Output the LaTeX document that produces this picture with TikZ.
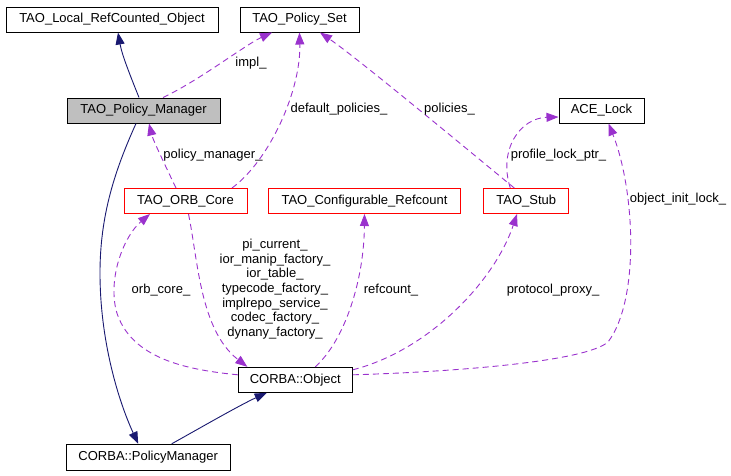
\documentclass[tikz,border=0pt]{standalone}
\usepackage{fontspec}
\setmainfont{Liberation Sans}
\usetikzlibrary{arrows.meta}
\definecolor{edgepurple}{HTML}{9A32CD}
\definecolor{edgenavy}{HTML}{191970}
\definecolor{boxgray}{HTML}{BFBFBF}
\begin{document}
\begin{tikzpicture}[x=1pt,y=-1pt,
  every node/.style={font=\fontsize{13}{14.7}\selectfont, inner sep=0pt},
  classbox/.style={draw=black, line width=1pt, minimum height=25pt},
  redbox/.style={draw=red, line width=1pt, minimum height=25pt},
  lbl/.style={align=center},
  uses/.style={draw=edgepurple, line width=0.9pt, dash pattern=on 6pt off 4pt,
    -{Triangle[length=12pt,width=9pt,fill=edgepurple]}},
  inherit/.style={draw=edgenavy, line width=0.9pt,
    -{Triangle[length=12pt,width=9pt,fill=edgenavy]}}]
\useasboundingbox (0,0) rectangle (731,475);

% nodes
\node[classbox, minimum width=212pt] (rco) at (112,19.5) {TAO\_Local\_RefCounted\_Object};
\node[classbox, minimum width=119pt] (pset) at (299.5,19.5) {TAO\_Policy\_Set};
\node[classbox, minimum width=153pt, fill=boxgray] (pm) at (143.5,110.5) {TAO\_Policy\_Manager};
\node[classbox, minimum width=85pt] (ace) at (601.5,110.5) {ACE\_Lock};
\node[redbox, minimum width=123pt] (orb) at (185.5,201) {TAO\_ORB\_Core};
\node[redbox, minimum width=192pt] (ref) at (364.5,201) {TAO\_Configurable\_Refcount};
\node[redbox, minimum width=85pt] (stub) at (526.3,201) {TAO\_Stub};
\node[classbox, minimum width=114pt] (obj) at (295.3,379.8) {CORBA::Object};
\node[classbox, minimum width=164pt, minimum height=26pt] (cpm) at (148.2,457.3) {CORBA::PolicyManager};

% inheritance edges
\draw[inherit] ([xshift=-4.5]pm.north) .. controls (130,75) and (122,55) .. ([xshift=6]rco.south);
\draw[inherit] ([xshift=-7.5]pm.south) .. controls (115,170) and (100,215) .. (100,273)
  .. controls (100,340) and (118,400) .. ([xshift=-10]cpm.north);
\draw[inherit] ([xshift=23.5]cpm.north) .. controls (200,428) and (240,405) .. ([xshift=-28.6]obj.south);

% usage edges
\draw[uses] ([xshift=19.5]pm.north) .. controls (200,80) and (245,45) .. ([xshift=-27.5]pset.south);
\draw[uses] ([xshift=-9.5]orb.north) .. controls (165,165) and (153,140) .. ([xshift=5.5]pm.south);
\draw[uses] ([xshift=46.5]orb.north) .. controls (270,160) and (301,90) .. (pset.south);
\draw[uses] ([xshift=-12]stub.north) .. controls (480,160) and (360,60) .. ([xshift=20.5]pset.south);
\draw[uses] ([xshift=-16]stub.north) .. controls (498,150) and (520,118) .. ([yshift=-6.5]ace.west);
\draw[uses] ([yshift=5]obj.east) .. controls (450,372) and (585,362) .. (608,342)
  .. controls (640,300) and (635,190) .. ([xshift=7]ace.south);
\draw[uses] ([yshift=10]obj.east) .. controls (430,350) and (495,280) .. ([xshift=-9.3]stub.south);
\draw[uses] ([xshift=20]obj.north) .. controls (345,340) and (364,280) .. (ref.south);
\draw[uses] ([yshift=5]obj.west) .. controls (190,370) and (130,360) .. (116,310)
  .. controls (108,275) and (125,235) .. ([xshift=-35.5]orb.south);
\draw[uses] ([xshift=3]orb.south) .. controls (198,260) and (200,330) .. ([xshift=-48]obj.north);

% labels
\node[lbl] (limpl) at (251,63) {impl\_};
\node[lbl] (lpm) at (213,155) {policy\_manager\_};
\node[lbl] (ldef) at (339,109) {default\_policies\_};
\node[lbl] (lpol) at (449.5,109) {policies\_};
\node[lbl] (lprof) at (558.5,155) {profile\_lock\_ptr\_};
\node[lbl] (linit) at (678,199) {object\_init\_lock\_};
\node[lbl] (lproto) at (553,290) {protocol\_proxy\_};
\node[lbl] (lref) at (391,290) {refcount\_};
\node[lbl] (lorb) at (161,290) {orb\_core\_};
\node[lbl] (lmulti) at (275,289.2) {pi\_current\_\\ior\_manip\_factory\_\\ior\_table\_\\typecode\_factory\_\\implrepo\_service\_\\codec\_factory\_\\dynany\_factory\_};
\end{tikzpicture}
\end{document}
